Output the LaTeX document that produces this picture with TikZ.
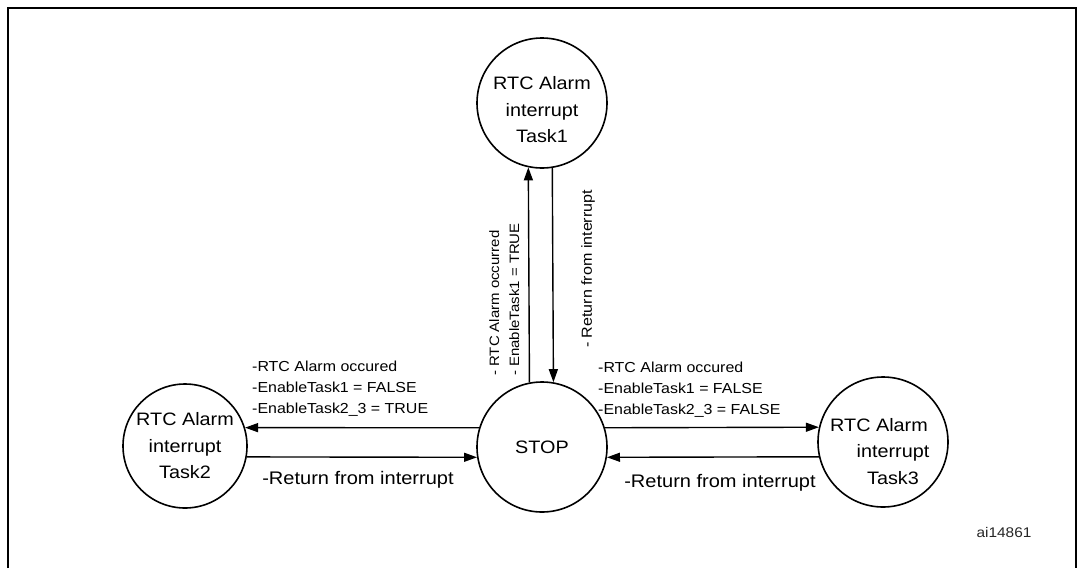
\documentclass[tikz,border=0pt]{standalone}
\usepackage{fontspec}
\setmainfont{Liberation Sans}[FakeStretch=1.1]
\usetikzlibrary{arrows.meta}

\begin{document}
\begin{tikzpicture}[x=1pt,y=-1pt,
    state/.style={circle,draw,line width=1.6pt,minimum size=130pt,inner sep=0pt,
      align=center,font=\fontsize{18}{26.5}\selectfont},
    flow/.style={line width=1.4pt,-{Triangle[length=13pt,width=9pt]}},
    cond/.style={align=left,inner sep=0pt,font=\fontsize{14.5}{20.7}\selectfont},
    ret/.style={inner sep=0pt,font=\fontsize{18.2}{22}\selectfont}]
    \useasboundingbox (0,0) rectangle (1082,568);
    \draw[line width=1.8pt] (8,568) -- (8,8) -- (1076,8) -- (1076,568);

    \node[state] (task1) at (542,103) {\rule{0pt}{27pt}RTC Alarm\\interrupt\\Task1};
    \node[state] (stop) at (542,447) {STOP};
    \node[state,minimum size=124pt] (task2) at (185,446) {RTC Alarm\\interrupt\\Task2};
    \node[state] (task3) at (883,442)
      {\rule{0pt}{32pt}\hspace*{-8pt}RTC Alarm\\\hspace*{20pt}interrupt\\\hspace*{20pt}Task3};

    % stop <-> task1
    \draw[flow] (stop.101.5) -- (task1.258.5);
    \draw[flow] (task1.279.7) -- (stop.80.3);
    % stop <-> task2
    \draw[flow] (stop.163) -- (task2.17);
    \draw[flow] (task2.350) -- (stop.189);
    % stop <-> task3
    \draw[flow] (stop.17) -- (task3.167.6);
    \draw[flow] (task3.193.3) -- (stop.351);

    \node[cond,rotate=90,anchor=north west,font=\fontsize{13.6}{20}\selectfont] (up1) at (489,376)
      {- RTC Alarm occurred\\- EnableTask1 = TRUE};
    \node[ret,rotate=90,font=\fontsize{14.6}{18}\selectfont] (down1) at (588,269) {- Return from interrupt};
    \node[cond,anchor=north west] (left2) at (252,361)
      {-RTC Alarm occured\\-EnableTask1 = FALSE\\-EnableTask2\_3 = TRUE};
    \node[cond,anchor=north west] (right3) at (598,362)
      {-RTC Alarm occured\\-EnableTask1 = FALSE\\-EnableTask2\_3 = FALSE};
    \node[ret] (back2) at (358,480) {-Return from interrupt};
    \node[ret] (back3) at (720,483) {-Return from interrupt};

    \node[inner sep=0pt,text=black!85,font=\fontsize{14}{16}\selectfont] (fig) at (1004,532) {ai14861};
\end{tikzpicture}
\end{document}
